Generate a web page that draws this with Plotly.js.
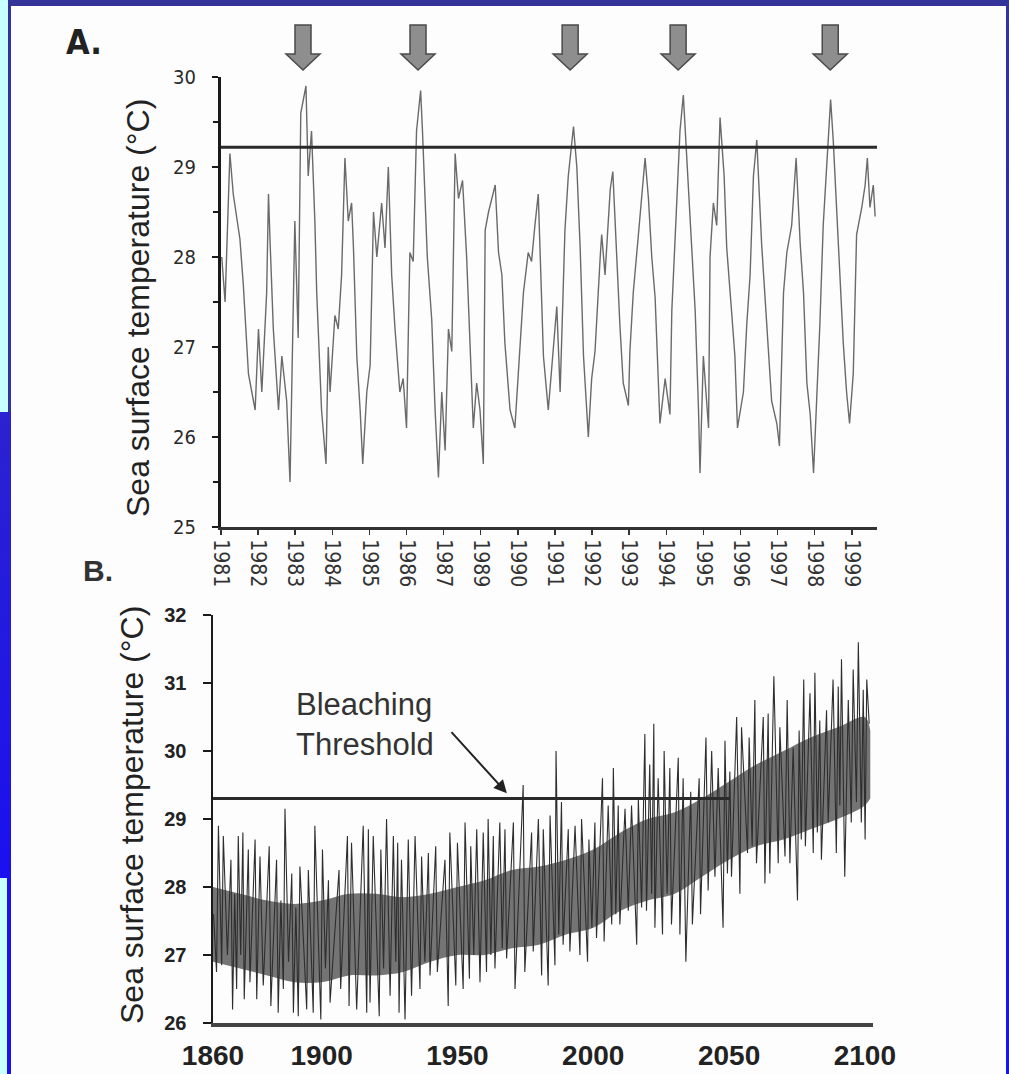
<!DOCTYPE html>
<html><head><meta charset="utf-8">
<script src="https://cdn.plot.ly/plotly-3.0.1.min.js"></script>
<style>
html,body{margin:0;padding:0;background:#fdfdfd;}
#frame{position:relative;width:1009px;height:1074px;overflow:hidden;background:#fdfdfd;}
#chart{position:absolute;left:0;top:0;width:1009px;height:1074px;}
.deco{position:absolute;}
</style></head><body>
<div id="frame">
<div id="chart"></div>
<div class="deco" style="left:0;top:0;width:8px;height:412px;background:#c8ffff"></div>
<div class="deco" style="left:8px;top:0;width:3px;height:412px;background:#3333a0"></div>
<div class="deco" style="left:8px;top:0;width:1001px;height:6px;background:#333399"></div>
<div class="deco" style="left:0;top:412px;width:11px;height:466px;background:linear-gradient(#2c22d0,#1a10f0)"></div>
<div class="deco" style="left:0;top:878px;width:7px;height:196px;background:#c8ffff"></div>
<div class="deco" style="left:7px;top:878px;width:4px;height:196px;background:#1a10f0"></div>
<div class="deco" style="left:1006px;top:0;width:3px;height:1074px;background:linear-gradient(#3333a0,#1515ee)"></div>
</div>
<script>
// ---------- Panel A: weekly SST 1981-1999 (time in tick-interval units from first tick) ----------
const tickTextA = ["1981","1982","1983","1984","1985","1986","1987","1989","1990","1991","1992","1993","1994","1995","1996","1997","1998","1999"];
const tickPosA = [0,1,2,3,4,5,6,7,8,9,10,11,12,13,14,15,16,17];
const tA = [0.02,0.11,0.24,0.33,0.51,0.60,0.74,0.92,1.01,1.10,1.23,1.28,1.32,1.41,1.55,1.64,1.77,1.86,1.99,2.08,2.15,2.29,2.35,2.44,2.53,2.58,2.71,2.83,2.89,2.94,3.07,3.16,3.25,3.34,3.43,3.52,3.57,3.66,3.75,3.82,3.93,4.02,4.11,4.20,4.33,4.42,4.51,4.60,4.69,4.82,4.91,5.00,5.09,5.18,5.27,5.38,5.43,5.50,5.56,5.68,5.77,5.86,5.95,6.04,6.13,6.22,6.31,6.40,6.51,6.62,6.67,6.80,6.89,6.98,7.07,7.12,7.21,7.39,7.48,7.57,7.65,7.79,7.92,8.06,8.15,8.28,8.37,8.46,8.55,8.69,8.82,8.91,9.05,9.14,9.27,9.36,9.50,9.59,9.68,9.77,9.90,9.99,10.08,10.22,10.26,10.35,10.49,10.56,10.66,10.75,10.84,10.98,11.02,11.11,11.25,11.34,11.43,11.52,11.61,11.70,11.79,11.83,11.97,12.10,12.15,12.28,12.37,12.46,12.55,12.64,12.78,12.87,12.91,13.00,13.14,13.18,13.27,13.36,13.45,13.56,13.63,13.76,13.85,13.92,14.08,14.17,14.26,14.35,14.44,14.57,14.71,14.84,14.98,15.05,15.16,15.25,15.38,15.50,15.61,15.70,15.79,15.88,15.97,16.07,16.14,16.23,16.34,16.43,16.50,16.59,16.68,16.77,16.86,16.94,17.04,17.13,17.27,17.36,17.42,17.49,17.58,17.63];
const sstA = [28.0,27.5,29.15,28.7,28.2,27.7,26.7,26.3,27.2,26.5,27.6,28.7,28.2,27.2,26.3,26.9,26.4,25.5,28.4,27.1,29.6,29.9,28.9,29.4,28.4,27.6,26.3,25.7,27.0,26.5,27.35,27.2,27.8,29.1,28.4,28.6,28.1,26.9,26.3,25.7,26.5,26.8,28.5,28.0,28.6,28.1,29.0,27.8,27.2,26.5,26.65,26.1,28.05,27.95,29.4,29.85,29.4,28.7,28.0,27.3,26.3,25.55,26.5,25.85,27.2,26.95,29.15,28.65,28.85,28.0,27.5,26.1,26.6,26.3,25.7,28.3,28.5,28.8,28.05,27.8,27.05,26.3,26.1,27.1,27.6,28.05,27.95,28.35,28.7,26.9,26.3,26.75,27.45,26.5,28.3,28.9,29.45,29.0,28.1,26.9,26.0,26.65,26.95,28.0,28.25,27.8,28.75,28.95,28.0,27.25,26.6,26.35,26.95,27.6,28.25,28.65,29.1,28.65,28.0,27.55,26.6,26.15,26.65,26.25,27.4,28.7,29.4,29.8,29.1,28.55,27.4,26.3,25.6,26.9,26.1,28.0,28.6,28.35,29.55,28.9,28.1,27.4,26.9,26.1,26.5,27.25,27.8,28.9,29.3,28.15,27.25,26.4,26.15,25.9,27.6,28.05,28.35,29.1,28.15,27.6,26.6,26.25,25.6,26.5,27.25,28.35,29.15,29.75,29.3,28.55,27.8,27.05,26.5,26.15,26.7,28.25,28.55,28.8,29.1,28.55,28.8,28.45];
const thresholdA = 29.22;
const eventsA = [2.21,5.31,9.41,12.32,16.42];   // bleaching events (arrows)
const rangeA = [0,17.68];

// ---------- Panel B: modelled SST 1860-2100 ----------
const yearB = [1860.2,1861.3,1862.0,1863.2,1863.8,1865.3,1866.6,1867.2,1868.0,1868.7,1869.3,1870.2,1871.0,1871.5,1873.0,1873.6,1875.5,1876.1,1877.3,1878.5,1880.7,1881.3,1883.4,1884.0,1885.0,1885.9,1886.5,1887.8,1889.0,1889.6,1890.5,1891.4,1892.0,1894.5,1895.1,1896.9,1897.5,1899.7,1900.3,1901.4,1902.5,1903.1,1906.4,1907.0,1909.5,1910.1,1911.0,1912.9,1915.3,1916.6,1917.2,1917.8,1919.0,1921.2,1921.8,1922.8,1923.9,1925.2,1926.4,1927.3,1928.0,1928.5,1929.4,1930.7,1931.9,1933.1,1934.4,1936.2,1936.8,1938.0,1939.3,1939.9,1942.0,1942.6,1945.4,1946.6,1947.2,1949.4,1950.0,1952.1,1952.8,1954.4,1954.9,1956.0,1957.1,1958.3,1959.5,1960.7,1961.3,1962.3,1963.2,1963.8,1965.6,1966.5,1967.5,1968.1,1970.6,1971.2,1974.2,1974.8,1977.3,1977.9,1979.8,1981.0,1981.6,1983.4,1984.1,1985.9,1986.3,1987.3,1988.3,1988.9,1990.8,1991.4,1993.3,1995.1,1995.7,1997.9,1998.4,1999.5,2000.6,2001.2,2003.4,2004.0,2005.5,2006.8,2007.4,2008.3,2009.2,2009.8,2011.7,2012.9,2014.1,2016.0,2016.6,2017.8,2019.0,2019.6,2020.8,2021.5,2022.3,2022.7,2023.9,2025.5,2026.1,2027.2,2028.2,2028.8,2031.3,2031.9,2033.1,2034.1,2035.9,2036.5,2039.0,2039.5,2041.5,2042.3,2043.6,2044.8,2046.0,2047.8,2048.5,2049.4,2050.3,2050.9,2052.8,2054.0,2054.6,2056.8,2057.4,2058.5,2059.5,2060.1,2062.6,2063.2,2064.4,2065.0,2066.5,2068.1,2068.7,2070.6,2071.4,2072.4,2073.6,2075.2,2075.8,2076.6,2077.5,2078.1,2079.8,2081.0,2081.6,2082.5,2083.4,2084.0,2085.9,2086.5,2088.3,2089.5,2090.2,2090.8,2091.4,2092.6,2093.9,2095.0,2095.7,2096.9,2097.6,2098.7,2099.4,2100.1,2100.7,2101.6];
const sstB = [27.6,26.75,28.9,26.85,28.75,27.0,28.4,26.2,27.9,26.5,28.75,27.0,28.8,26.35,28.55,26.6,28.7,26.35,28.45,26.55,28.6,26.25,28.4,26.15,27.8,26.5,29.15,26.9,28.2,26.15,27.7,26.1,28.3,26.2,28.25,26.15,28.9,26.05,28.55,26.8,28.1,26.3,28.25,26.5,28.75,26.25,28.65,26.2,28.9,26.15,28.85,26.3,28.75,26.1,28.55,26.8,29.0,26.4,28.75,26.9,28.65,26.15,28.4,26.05,28.7,26.4,28.75,26.5,28.45,26.9,28.5,26.7,28.6,26.75,28.4,26.25,28.8,26.55,28.65,26.5,28.95,26.65,28.6,27.0,28.85,26.6,28.8,26.75,29.0,27.0,28.75,26.8,28.95,27.1,28.85,26.95,28.95,26.5,29.5,26.75,28.8,27.05,29.0,26.7,28.85,26.55,29.05,26.85,30.0,27.3,29.25,27.15,28.85,27.05,28.9,27.0,29.0,26.9,28.7,27.4,28.95,27.25,29.6,27.2,29.2,27.45,29.75,27.6,29.2,27.45,29.15,27.65,29.2,27.15,29.3,27.7,30.25,27.65,29.8,27.9,30.4,27.4,29.6,27.3,30.0,27.9,29.75,27.45,29.9,27.3,29.6,26.9,29.4,27.45,29.6,27.6,30.2,27.95,30.0,28.15,29.75,27.4,30.15,28.2,29.7,28.15,30.5,27.9,30.35,28.5,30.2,28.6,30.75,28.35,30.5,28.05,30.55,28.2,31.1,28.35,30.35,28.45,30.75,28.35,30.05,27.8,30.3,28.7,31.05,28.6,30.85,28.5,31.15,28.8,30.45,28.4,30.6,28.95,31.05,28.5,30.95,29.2,31.35,28.15,30.75,28.95,31.2,29.25,31.6,28.95,30.9,28.7,31.05,30.4];
const coreYears = [1860,1870,1880,1890,1900,1910,1920,1930,1940,1950,1960,1970,1980,1990,2000,2010,2020,2030,2040,2050,2060,2070,2080,2090,2100,2102];
const coreLow  = [26.9,26.8,26.7,26.6,26.6,26.7,26.7,26.75,26.9,27.0,27.0,27.1,27.15,27.3,27.4,27.65,27.8,27.9,28.15,28.4,28.6,28.7,28.85,29.0,29.2,29.3];
const coreHigh = [28.0,27.9,27.8,27.75,27.8,27.9,27.9,27.85,27.9,28.0,28.1,28.25,28.3,28.4,28.55,28.8,29.0,29.1,29.3,29.55,29.8,30.0,30.2,30.35,30.5,30.3];
const tickValsB = [1860,1900,1950,2000,2050,2100];
const thresholdB = 29.3;
const thresholdEndB = 2050;
const rangeB = [1860,2103];
// "Bleaching Threshold" arrow: tip and tail (year, °C)
const calloutTip = [1968.2, 29.38];
const calloutTail = [1947.3, 30.3];

if (yearB.length !== sstB.length || tA.length !== sstA.length) console.error('length mismatch', yearB.length, sstB.length, tA.length, sstA.length);

const W = 1009, H = 1074;
const domAx = [221/W, 877/W], domAy = [1-527/H, 1-77/H];
const domBx = [213/W, 873/W], domBy = [1-1023/H, 1-615/H];

const narrow = 'Liberation Sans Narrow, Arial Narrow, DejaVu Sans Condensed, Arial, sans-serif';
const arial = 'Liberation Sans, Arial, sans-serif';

const traces = [
  {x:tA, y:sstA, xaxis:'x', yaxis:'y', type:'scatter', mode:'lines', line:{color:'#6a6a6a', width:1.4}},
  {x:coreYears, y:coreLow, xaxis:'x2', yaxis:'y2', type:'scatter', mode:'lines', line:{width:0, color:'rgba(0,0,0,0)', shape:'spline'}},
  {x:coreYears, y:coreHigh, xaxis:'x2', yaxis:'y2', type:'scatter', mode:'lines', line:{width:0, color:'rgba(0,0,0,0)', shape:'spline'}, fill:'tonexty', fillcolor:'#747474'},
  {x:yearB, y:sstB, xaxis:'x2', yaxis:'y2', type:'scatter', mode:'lines', line:{color:'#2e2e2e', width:1.1}}
];

// arrows above panel A
const shapes = [];
const toPaperA = u => domAx[0] + (u - rangeA[0])/(rangeA[1]-rangeA[0])*(domAx[1]-domAx[0]);
const yTop = 1-25/H, yHead = 1-54/H, yTip = 1-70/H;
const sw = 8/W, hw = 17/W;
eventsA.forEach(u => {
  const c = toPaperA(u);
  shapes.push({type:'path', xref:'paper', yref:'paper',
    path:`M ${c-sw},${yTop} L ${c+sw},${yTop} L ${c+sw},${yHead} L ${c+hw},${yHead} L ${c},${yTip} L ${c-hw},${yHead} L ${c-sw},${yHead} Z`,
    fillcolor:'#8e8e8e', line:{color:'#4a4a4a', width:1.5}});
});
shapes.push({type:'line', xref:'x', yref:'y', x0:rangeA[0], x1:rangeA[1], y0:thresholdA, y1:thresholdA, line:{color:'#2a2a2a', width:3}});
shapes.push({type:'line', xref:'x2', yref:'y2', x0:rangeB[0], x1:thresholdEndB, y0:thresholdB, y1:thresholdB, line:{color:'#2a2a2a', width:3}});

const layout = {
  width:W, height:H, margin:{l:0,r:0,t:0,b:0},
  paper_bgcolor:'#fdfdfd', plot_bgcolor:'rgba(0,0,0,0)',
  showlegend:false, hovermode:false,
  xaxis:{domain:domAx, anchor:'y', range:rangeA, showgrid:false, zeroline:false,
    showline:true, linecolor:'#333', linewidth:3, ticks:'outside', ticklen:5, tickwidth:1.5, tickcolor:'#333',
    tickvals:tickPosA, ticktext:tickTextA, tickangle:90,
    tickfont:{family:narrow, size:21, color:'#333'}},
  yaxis:{domain:domAy, anchor:'x', range:[25,30], showgrid:false, zeroline:false,
    showline:true, linecolor:'#1a1a1a', linewidth:3, ticks:'outside', ticklen:6, tickwidth:2, tickcolor:'#1a1a1a',
    dtick:1, tick0:25, ticklabelstandoff:12,
    minor:{dtick:0.5, ticks:'outside', ticklen:5, tickwidth:2, tickcolor:'#1a1a1a', showgrid:false},
    tickfont:{family:narrow, size:20, color:'#2a2a2a'}},
  xaxis2:{domain:domBx, anchor:'y2', range:rangeB, showgrid:false, zeroline:false,
    showline:true, linecolor:'#444', linewidth:4, ticks:'', tickvals:tickValsB, ticklabelstandoff:4,
    tickfont:{family:arial, size:28, weight:'bold', color:'#222'}},
  yaxis2:{domain:domBy, anchor:'x2', range:[26,32], showgrid:false, zeroline:false,
    showline:true, linecolor:'#1a1a1a', linewidth:2.5, ticks:'outside', ticklen:8, tickwidth:2, tickcolor:'#1a1a1a',
    dtick:1, tick0:26, ticklabelstandoff:12,
    tickfont:{family:arial, size:20, weight:'bold', color:'#222'}},
  shapes:shapes,
  annotations:[
    {xref:'paper', yref:'paper', x:138/W, y:1-308/H, text:'Sea surface temperature (°C)', textangle:-90, showarrow:false,
     font:{family:arial, size:32, color:'#222'}, xanchor:'center', yanchor:'middle'},
    {xref:'paper', yref:'paper', x:132/W, y:1-815/H, text:'Sea surface temperature (°C)', textangle:-90, showarrow:false,
     font:{family:arial, size:32, color:'#222'}, xanchor:'center', yanchor:'middle'},
    {xref:'paper', yref:'paper', x:84/W, y:1-42/H, text:'A.', showarrow:false,
     font:{family:narrow, size:34, weight:'bold', color:'#222'}, xanchor:'center', yanchor:'middle'},
    {xref:'paper', yref:'paper', x:98/W, y:1-570/H, text:'B.', showarrow:false,
     font:{family:arial, size:30, weight:'bold', color:'#333'}, xanchor:'center', yanchor:'middle'},
    {xref:'paper', yref:'paper', x:365/W, y:1-724/H, text:'Bleaching<br>Threshold', align:'left', showarrow:false,
     xanchor:'center', yanchor:'middle', font:{family:arial, size:31, color:'#333'}},
    {xref:'x2', yref:'y2', x:calloutTip[0], y:calloutTip[1], axref:'x2', ayref:'y2', ax:calloutTail[0], ay:calloutTail[1],
     text:'', showarrow:true, arrowhead:2, arrowsize:1.3, arrowwidth:2, arrowcolor:'#222'}
  ]
};
Plotly.newPlot('chart', traces, layout, {staticPlot:true, displayModeBar:false});
</script>
</body></html>
